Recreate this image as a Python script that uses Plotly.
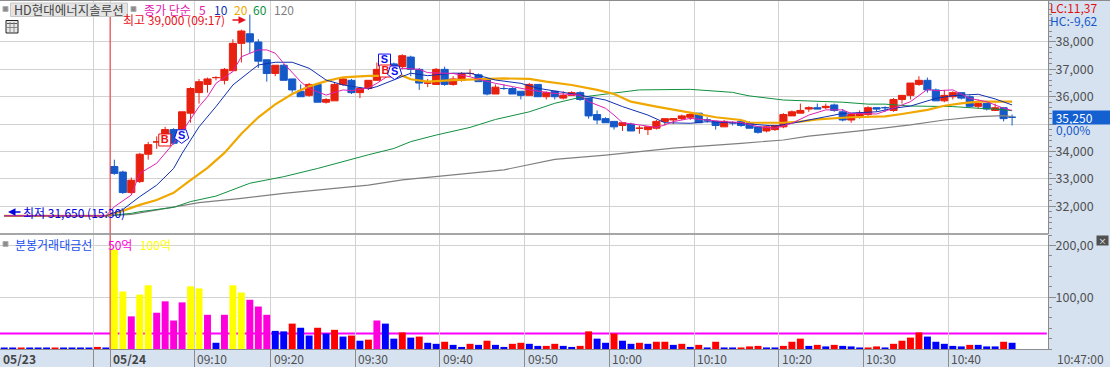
import plotly.graph_objects as go

# ---------- data ----------
prev_x = list(range(-13, 0))
prev_price = [31650] * 13
prev_vol = [1, 1, 1, 1, 1, 1, 1, 1, 1, 1, 1, 4, 1]
prev_dir = ["D", "D", "U", "D", "D", "D", "U", "D", "D", "D", "D", "U", "D"]

opens = [33450,33250,32500,32900,33900,34350,34300,34800,34800,35400,36150,36450,36700,36600,36950,37950,38300,38000,37350,36850,
         37150,36650,36200,36050,36450,35800,35850,36450,36600,36150,36300,36600,36800,37200,37100,37450,37000,36500,36450,37000,
         36450,36600,36850,36800,36650,36100,36300,36300,36200,36050,36450,36000,36200,35950,36050,36150,35950,35350,35200,35100,
         34950,35000,34850,34800,34850,35100,35150,35200,35250,35400,35150,35100,34900,35050,35100,35050,34900,34750,34800,34900,
         35300,35400,35550,35600,35600,35700,35450,35150,35300,35350,35600,35600,35500,35900,36050,36450,36600,36250,35850,36000,
         36150,36000,35650,35750,35500,35600,35250]
closes = [33200,32500,32950,33900,34250,34350,34800,34300,35450,36300,36550,36650,36700,37000,37950,38400,38000,37300,36850,37150,
          36600,36250,36000,36450,35800,35900,36450,36650,36150,36300,36600,37000,37200,36850,37500,37000,36500,36500,37000,36450,
          36650,36850,36850,36550,36100,36350,36300,36100,36050,36450,36000,36150,36000,36050,36150,35900,35300,35150,35050,34900,
          35050,34750,34850,34900,35100,35200,35200,35300,35350,35050,35150,34950,35100,35050,34950,34850,34700,34900,34950,35350,
          35450,35500,35600,35550,35650,35500,35150,35350,35400,35600,35550,35600,35900,36050,36500,36600,36250,35850,36050,36150,
          35950,35650,35750,35550,35600,35200,35250]
highs = [33700,33300,33050,33950,34350,34550,34900,34850,35450,36350,36650,36700,36750,37050,38100,38450,39000,38100,37350,37150,
         37200,36650,36450,36500,36500,35950,36500,36700,36650,36350,36600,37250,37400,37250,37550,37500,37050,36650,37050,37100,
         36750,36900,37000,36850,36700,36450,36450,36350,36200,36500,36450,36200,36200,36200,36200,36200,35950,35500,35250,35100,
         35050,35050,34950,34900,35150,35200,35200,35350,35400,35400,35250,35100,35150,35100,35100,35100,34900,34950,34950,35400,
         35500,35750,35650,35750,35750,35750,35550,35400,35500,35650,35600,35650,35950,36050,36500,36750,36700,36300,36250,36200,
         36150,36050,35900,35800,35750,35600,35350]
lows = [33150,32450,32450,32850,33700,34100,34250,34250,34750,35050,35750,36150,36600,36450,36950,37250,37600,37050,36550,36750,
        36600,36150,36000,36000,35800,35750,35850,36400,36100,35950,36250,36600,36800,36800,37000,36750,36250,36350,36450,36400,
        36400,36550,36750,36550,36050,36100,36250,36100,35900,36050,36000,35900,35900,35900,36050,35850,35200,35000,35050,34800,
        34750,34750,34650,34600,34800,34950,35000,35150,35150,35050,35050,34800,34900,34950,34900,34850,34650,34700,34750,34850,
        35300,35400,35450,35550,35550,35450,35100,35050,35200,35300,35450,35450,35450,35750,35900,36400,36150,35850,35800,35900,
        35900,35600,35550,35500,35500,35100,34950]
blue_doji = [46, 70, 73, 91, 106]

volumes = [192,111,63,105,123,70,92,55,90,121,117,66,12,66,123,109,95,82,66,35,34,49,41,26,41,30,37,24,26,16,18,
           55,49,20,32,22,24,12,10,14,8,4,10,8,16,8,4,10,12,10,6,6,10,6,4,6,34,20,12,30,16,10,12,10,14,14,8,10,4,8,3,14,3,3,
           3,5,6,3,3,6,14,20,6,8,5,8,6,5,3,3,5,3,10,16,22,32,24,14,10,6,5,8,8,5,5,14,12]
vol_dir = ["U","D","U","U","U","U","U","U","U","U","U","U","D","U","U","U","U","U","U","D","D","U","D","D","U","D","U","D","U","D","U",
           "U","D","D","U","D","U","D","D","U","D","D","U","D","U","D","D","U","U","D","D","U","U","D","D","U","U","D","D","U","D","D","U","D","U","U","D","U","D","U","D","U","D","D",
           "U","U","U","D","D","U","U","U","D","U","D","U","D","D","D","U","U","D","U","U","U","U","D","D","D","D","D","U","D","D","D","U","D"][:107]

ma5_x = [-13,-1,0,2,3,5,7,8,10,11,12,14,15,17,18,19,20,22,23,25,27,28,30,31,33,34,36,37,40,42,43,45,47,49,52,55,56,58,59,60,62,64,65,66,68,70,72,74,76,78,80,82,84,86,87,90,92,94,96,97,99,101,103,105,106]
ma5 = [31650,31650,31980,32410,33200,33570,34300,34720,35640,36000,36490,36920,37460,37710,37710,37590,37220,36550,36300,36060,36250,36220,36320,36490,36900,37040,37000,36880,36850,36730,36640,36490,36370,36250,36120,36060,35820,35580,35330,35050,34970,34880,34970,35090,35210,35150,35090,35060,34910,34850,35030,35330,35520,35520,35390,35370,35580,35820,36270,36220,36250,35940,35820,35580,35500]
ma10_x = [-13,-1,1,3,5,7,8,10,12,14,16,17,19,21,23,25,27,30,31,33,35,37,40,42,45,48,50,55,58,60,63,65,68,70,74,78,80,84,86,90,92,94,97,99,102,104,106]
ma10 = [31650,31650,31880,32350,32770,33380,33930,34900,35640,36430,36920,37160,37260,37260,37040,36610,36430,36290,36370,36610,36860,36770,36860,36860,36610,36490,36310,36060,35880,35640,35330,35050,35030,35090,35030,34930,35030,35270,35390,35450,35580,35660,35940,36040,36090,35920,35700]
ma20_x = [-13,-1,1,3,5,7,9,11,13,15,17,19,21,23,25,27,30,34,35,37,40,43,46,49,51,54,57,59,61,64,66,68,71,74,75,79,81,83,87,91,93,96,98,100,102,106]
ma20 = [31650,31650,31830,32050,32230,32490,32950,33400,33950,34650,35250,35720,36100,36380,36570,36710,36760,36770,36640,36550,36610,36640,36670,36650,36550,36430,36250,36100,35820,35640,35520,35420,35250,35150,35050,35050,35090,35170,35250,35280,35370,35520,35670,35760,35820,35820]
ma60_x = [-13,-1,2,3,7,9,12,16,20,24,30,33,35,38,42,45,49,52,55,58,62,68,70,73,74,75,79,82,86,89,91,94,97,99,102,104,106]
ma60 = [31650,31650,31740,31800,31960,32170,32370,32840,33080,33380,33880,34110,34360,34600,34880,35170,35450,35760,35980,36100,36250,36270,36220,36160,36090,36030,35880,35840,35800,35730,35730,35660,35640,35640,35580,35550,35490]
ma120_x = [-13,-1,2,6,10,15,20,26,30,34,46,52,58,66,70,74,79,82,88,94,98,102,105,106]
ma120 = [31650,31650,31700,31920,32130,32290,32470,32650,32770,32960,33330,33710,33870,34120,34200,34300,34420,34560,34750,34970,35150,35270,35310,35270]

grid_ticks = [-2.5,-0.5,9.45,18.45,28.45,38.45,48.45,58.45,68.45,78.45,88.45,98.45]
date_labels = ["05/23","05/24"]
time_labels = ["09:10","09:20","09:30","09:40","09:50","10:00","10:10","10:20","10:30","10:40"]
price_ticks = [32000,33000,34000,35000,36000,37000,38000]
vol_ticks = [100,200]
vol_labels = ["100,00","200,00"]
ma_periods = ["5","10","20","60","120"]
current_price = 35250
vol_ref_line = 30
signal_x = [31.9, 5.95, 32.0, 7.95, 33.1]
signal_y = [37340, 34420, 36940, 34570, 36900]
signal_text = ["S", "B", "B", "S", "S"]

# ---------- styles ----------
W, H = 1110, 367
PW, PH = 1048, 349
FONT = "Noto Sans CJK KR"
RED, BLUE = "#E8200F", "#1558C8"
BG = "#D6E2F0"
GRID = "#D2D2D2"
AX = "#8C8C8C"
TXT = "#505050"

def px(x): return x / PW
def py(y): return 1 - y / PH

fig = go.Figure()

def candle(idx, color):
    fig.add_trace(go.Candlestick(
        x=[i for i in idx], open=[opens[i] for i in idx], close=[closes[i] for i in idx],
        high=[highs[i] for i in idx], low=[lows[i] for i in idx],
        increasing=dict(line=dict(color=color, width=1), fillcolor=color),
        decreasing=dict(line=dict(color=color, width=1), fillcolor=color),
        whiskerwidth=0, hoverinfo="skip", showlegend=False, xaxis="x", yaxis="y"))

n = len(opens)
is_blue = [closes[i] < opens[i] or i in blue_doji for i in range(n)]
candle([i for i in range(n) if not is_blue[i]], RED)
candle([i for i in range(n) if is_blue[i]], BLUE)
fig.add_trace(go.Scatter(x=prev_x, y=prev_price, mode="lines", line=dict(color="#E01010", width=1),
                         hoverinfo="skip", showlegend=False))

for xs, ys, col, w in [(ma120_x, ma120, "#808080", 1.2), (ma60_x, ma60, "#109040", 1),
                       (ma20_x, ma20, "#F0A800", 2.2), (ma10_x, ma10, "#1030B0", 1),
                       (ma5_x, ma5, "#E020B0", 1)]:
    fig.add_trace(go.Scatter(x=xs, y=ys, mode="lines", line=dict(color=col, width=w),
                             hoverinfo="skip", showlegend=False, xaxis="x", yaxis="y"))

# buy / sell signal markers, upper S first so that the B box covers its foot
for sx, sy, st, k in zip(signal_x, signal_y, signal_text, range(len(signal_x))):
    col = "#F01010" if st == "B" else "#1010F0"
    pent = st == "S" and k > 0
    fig.add_trace(go.Scatter(x=[sx], y=[sy], mode="markers+text", text=["<b>%s</b>" % st], textposition="middle center",
                             textfont=dict(family="Liberation Sans", size=11, color=col),
                             marker=dict(symbol="pentagon" if pent else "square", angle=180 if pent else 0,
                                         size=15 if pent else 12, color="#FFFFFF", line=dict(color=col, width=1)),
                             hoverinfo="skip", showlegend=False, xaxis="x", yaxis="y"))

def vol_color(v, d):
    if v >= 100: return "#FFFF00"
    if v >= 50: return "#FF00DC"
    return "#FF0000" if d == "U" else "#0000FF"

all_x = prev_x + list(range(n))
all_v = prev_vol + volumes
all_d = prev_dir + vol_dir
fig.add_trace(go.Bar(x=all_x, y=all_v, width=0.82,
                     marker=dict(color=[vol_color(v, d) for v, d in zip(all_v, all_d)], line=dict(width=0)),
                     hoverinfo="skip", showlegend=False, xaxis="x", yaxis="y2"))

shapes = [
    dict(type="line", xref="x", yref="paper", x0=-0.5, x1=-0.5, y0=0, y1=py(12), line=dict(color="#F03030", width=1), layer="above"),
    dict(type="line", xref="x", yref="y2", x0=-13.5, x1=110.1, y0=vol_ref_line, y1=vol_ref_line, line=dict(color="#FF00FF", width=2), layer="below"),
    dict(type="line", xref="paper", yref="paper", x0=0, x1=1, y0=py(234), y1=py(234), line=dict(color=AX, width=1.5), layer="above"),
    dict(type="line", xref="paper", yref="paper", x0=0, x1=1.06, y0=py(0.5), y1=py(0.5), line=dict(color=AX, width=1), layer="above"),
    # header icons
    dict(type="rect", xref="paper", yref="paper", x0=px(3), x1=px(8), y0=py(11.5), y1=py(6.5), fillcolor="#8C8C8C", line=dict(color="#B0B0B0", width=1), layer="above"),
    dict(type="rect", xref="paper", yref="paper", x0=px(10.5), x1=px(127.5), y0=py(16.5), y1=py(3), fillcolor="#E4E4E4", line=dict(color="#C8C8C8", width=1), layer="above"),
    dict(type="rect", xref="paper", yref="paper", x0=px(131), x1=px(136), y0=py(11.5), y1=py(6.5), fillcolor="#8C8C8C", line=dict(color="#B0B0B0", width=1), layer="above"),
    dict(type="rect", xref="paper", yref="paper", x0=px(6), x1=px(18), y0=py(33), y1=py(20.5), fillcolor="#E8E8E8", line=dict(color="#222222", width=1), layer="above"),
    dict(type="line", xref="paper", yref="paper", x0=px(7), x1=px(17), y0=py(23.5), y1=py(23.5), line=dict(color="#555555", width=1), layer="above"),
    dict(type="line", xref="paper", yref="paper", x0=px(7), x1=px(17), y0=py(27.5), y1=py(27.5), line=dict(color="#888888", width=1), layer="above"),
    dict(type="line", xref="paper", yref="paper", x0=px(10), x1=px(10), y0=py(32), y1=py(22), line=dict(color="#888888", width=1), layer="above"),
    dict(type="line", xref="paper", yref="paper", x0=px(14), x1=px(14), y0=py(32), y1=py(22), line=dict(color="#888888", width=1), layer="above"),
    dict(type="rect", xref="paper", yref="paper", x0=px(3), x1=px(8), y0=py(246.5), y1=py(241.5), fillcolor="#8C8C8C", line=dict(color="#B0B0B0", width=1), layer="above"),
]

ann = []
def T(x, y, text, color, size=12, anchor="left", **kw):
    ann.append(dict(xref="paper", yref="paper", x=px(x), y=py(y), text=text, showarrow=False,
                    xanchor=anchor, yanchor="middle", font=dict(family=FONT, size=size, color=color),
                    borderpad=0, **kw))

T(12.5, 9.5, "HD현대에너지솔루션", "#444444", 12.5)
T(143, 9.5, "종가 단순", "#E020B0", 12)
ma_pos = [198, 213, 233, 252, 273]
ma_cols = ["#E020B0", "#1030B0", "#F0A800", "#109040", "#808080"]
for p, lab, c in zip(ma_pos, ma_periods, ma_cols):
    T(p, 9.5, lab, c, 12)
T(122, 19.5, "최고 39,000 (09:17)", "#E8101A", 12)
T(22, 212, "최저 31,650 (15:30)", "#0000E0", 12)
T(14, 244, "분봉거래대금선", "#2050F0", 12)
T(107, 244, "50억", "#FF00DC", 12)
T(139, 244, "100억", "#FFFF00", 12)
ann.append(dict(xref="paper", yref="paper", x=px(246), y=py(20), ax=-15, ay=0, axref="pixel", ayref="pixel",
                text="", showarrow=True, arrowhead=2, arrowsize=1, arrowwidth=1.5, arrowcolor="#E8101A"))
ann.append(dict(xref="paper", yref="paper", x=px(8), y=py(212), ax=14, ay=0, axref="pixel", ayref="pixel",
                text="", showarrow=True, arrowhead=2, arrowsize=1, arrowwidth=1.5, arrowcolor="#0000E0"))

T(1049, 8, "LC:11,37", "#E01010", 12)
T(1049, 20, "HC:-9,62", "#1558C8", 12)
T(1055, 130, "0,00%", "#1558C8", 12)
ann.append(dict(xref="paper", yref="y", x=px(1052), y=current_price, text="&nbsp;35,250", showarrow=False, xanchor="left", yanchor="middle",
                align="left", width=58, height=13, bgcolor="#1560D0", font=dict(family=FONT, size=12, color="#FFFFFF"), borderpad=0))
ann.append(dict(xref="paper", yref="paper", x=px(1102), y=py(241), text="×", showarrow=False, xanchor="center", yanchor="middle",
                width=11, height=9, bgcolor="#505050", font=dict(family=FONT, size=8, color="#FFFFFF"), borderpad=0))

for lab, p in zip(date_labels, [2, 112]):
    T(p, 358.5, "<b>%s</b>" % lab, "#444444", 12)
for lab, tv in zip(time_labels, grid_ticks[2:]):
    ann.append(dict(xref="x", yref="paper", x=tv, xshift=1, y=py(358.5), text=lab, showarrow=False, xanchor="left", yanchor="middle",
                    font=dict(family=FONT, size=12, color=TXT)))
T(1056, 358.5, "10:47:00", TXT, 12)

fig.update_layout(
    width=W, height=H, autosize=False,
    margin=dict(l=0, r=W - PW, t=0, b=H - PH, pad=0),
    paper_bgcolor=BG, plot_bgcolor="#FFFFFF", showlegend=False, boxgap=0.16, boxgroupgap=0, barmode="overlay",
    font=dict(family=FONT, size=12, color=TXT),
    shapes=shapes, annotations=ann,
    xaxis=dict(range=[-13.5, 110.24], domain=[0, 1], anchor="y2", tickvals=grid_ticks, ticktext=[""] * len(grid_ticks),
               showgrid=True, gridcolor=GRID, gridwidth=1, zeroline=False, ticks="outside", ticklen=18, tickcolor=AX, tickwidth=1,
               showline=True, linecolor=AX, linewidth=1, rangeslider=dict(visible=False), fixedrange=True),
    yaxis=dict(domain=[1 - 233.5 / PH, 1], range=[31004, 39534], side="right", anchor="x", tickvals=price_ticks,
               ticktext=["32,000", "33,000", "34,000", "", "36,000", "37,000", "38,000"],
               showgrid=True, gridcolor=GRID, gridwidth=1, zeroline=False, ticks="outside", ticklen=7, tickcolor=AX,
               ticklabelstandoff=-3,
               showline=True, linecolor=AX, linewidth=1, fixedrange=True, tickfont=dict(family=FONT, size=12.5, color=TXT),
               minor=dict(dtick=200, ticks="outside", ticklen=3, tickcolor=AX, showgrid=False)),
    yaxis2=dict(domain=[0, 1 - 234.5 / PH], range=[0, 221], side="right", anchor="x", tickvals=vol_ticks, ticktext=vol_labels,
                showgrid=True, gridcolor=GRID, gridwidth=1, zeroline=False, ticks="outside", ticklen=7, tickcolor=AX,
                ticklabelstandoff=-3,
                showline=True, linecolor=AX, linewidth=1, fixedrange=True, tickfont=dict(family=FONT, size=12.5, color=TXT),
                minor=dict(dtick=20, ticks="outside", ticklen=3, tickcolor=AX, showgrid=False)),
)

fig.write_html("out.html", config={"displayModeBar": False},
               post_script="document.body.style.margin='0';document.body.style.overflow='hidden';")
